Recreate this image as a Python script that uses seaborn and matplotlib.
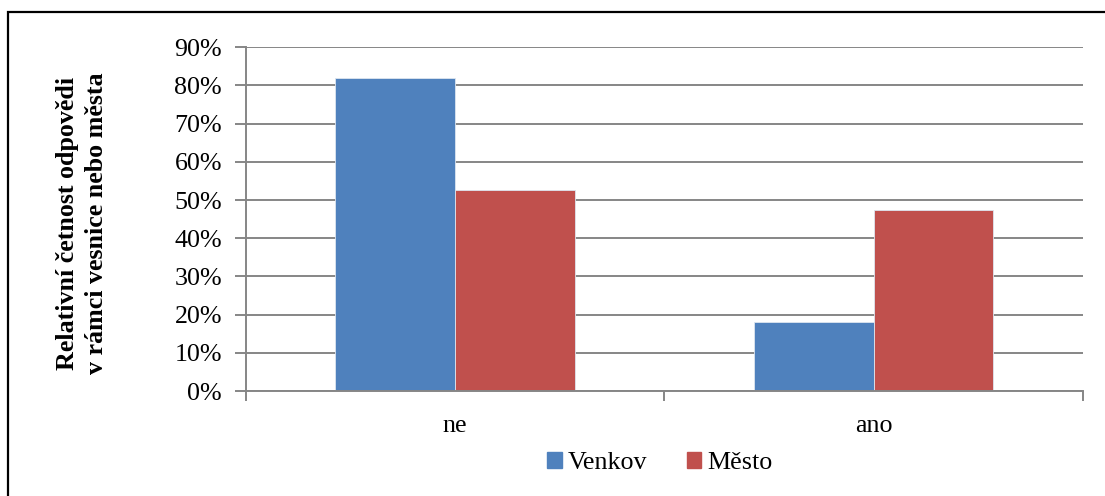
import matplotlib
matplotlib.use('Agg')
import matplotlib.pyplot as plt
import matplotlib.patches as mpatches
from matplotlib.ticker import PercentFormatter, FixedLocator
import seaborn as sns
import pandas as pd

categories = ['ne', 'ano']
series = ['Venkov', 'Město']
venkov = [0.82, 0.18]
mesto = [0.526, 0.474]
colors = ['#4F81BD', '#C0504D']
y_ticks = [0.0, 0.1, 0.2, 0.3, 0.4, 0.5, 0.6, 0.7, 0.8, 0.9]

df = pd.DataFrame({
    'odpoved': categories * 2,
    'oblast': [series[0]] * 2 + [series[1]] * 2,
    'podil': venkov + mesto,
})

sns.set_style('white')
plt.rcParams['font.family'] = ['Liberation Serif', 'DejaVu Serif']
plt.rcParams['text.color'] = 'black'
plt.rcParams['xtick.labelcolor'] = 'black'
plt.rcParams['ytick.labelcolor'] = 'black'
fs = 18.7
grid_col = '#868686'

fig = plt.figure(figsize=(11.05, 4.96), dpi=100)
fig.patch.set_facecolor('white')
ax = fig.add_axes([245.5 / 1105, 1 - 391 / 496, (1083 - 245.5) / 1105, (391 - 47.3) / 496])

sns.barplot(data=df, x='odpoved', y='podil', hue='oblast', order=categories,
            hue_order=series, palette=colors, saturation=1, width=0.5714,
            linewidth=0.6, edgecolor='#dde6f0',
            ax=ax, legend=False)

ax.set_xlim(-0.5, 1.5)
ax.set_ylim(0, 0.9)
ax.set_yticks(y_ticks)
ax.yaxis.set_major_formatter(PercentFormatter(1.0, decimals=0))
ax.yaxis.grid(True, color=grid_col, linewidth=1.4)
ax.set_axisbelow(True)
ax.set_xlabel('')
ax.set_ylabel('')

for s in ['top', 'right']:
    ax.spines[s].set_visible(False)
for s in ['left', 'bottom']:
    ax.spines[s].set_color(grid_col)
    ax.spines[s].set_linewidth(1.4)

ax.tick_params(axis='y', length=8, width=1.4, color=grid_col, direction='out',
               labelsize=fs, labelcolor='black', pad=9, left=True)
ax.tick_params(axis='x', which='major', length=0, labelsize=fs,
               labelcolor='black', pad=17)
ax.xaxis.set_minor_locator(FixedLocator([-0.5, 0.5, 1.5]))
ax.tick_params(axis='x', which='minor', length=7, width=1.4, color=grid_col,
               direction='out', bottom=True)

fig.text(82 / 1105, 1 - 223 / 496,
         'Relativní četnost odpovědi\nv rámci vesnice nebo města',
         rotation=90, ha='center', va='center', fontsize=fs, color='black',
         fontweight='bold', multialignment='center', linespacing=1.3)

handles = [mpatches.Patch(color=c, label=l) for c, l in zip(colors, series)]
fig.legend(handles=handles, loc='center', bbox_to_anchor=(660 / 1105, 1 - 463 / 496),
           ncol=2, frameon=False, fontsize=fs, handlelength=0.55, handleheight=0.55,
           handletextpad=0.25, columnspacing=1.5, borderaxespad=0,
           labelcolor='black')

fig.add_artist(mpatches.Rectangle((7.5 / 1105, -0.1), 1.2, 1 - 11.5 / 496 + 0.1,
                                  transform=fig.transFigure, fill=False,
                                  edgecolor='black', linewidth=1.6))

fig.savefig('out.png', dpi=100, facecolor='white')
